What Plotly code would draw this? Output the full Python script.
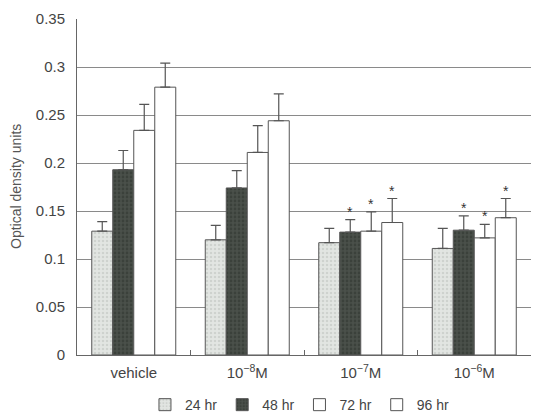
import plotly.graph_objects as go

categories = ["vehicle", "10<sup>−8</sup>M", "10<sup>−7</sup>M", "10<sup>−6</sup>M"]
series_names = ["24 hr", "48 hr", "72 hr", "96 hr"]

val_24 = [0.129, 0.120, 0.117, 0.111]
val_48 = [0.193, 0.174, 0.128, 0.130]
val_72 = [0.234, 0.211, 0.129, 0.122]
val_96 = [0.279, 0.244, 0.138, 0.143]

err_24 = [0.010, 0.015, 0.015, 0.021]
err_48 = [0.020, 0.018, 0.013, 0.015]
err_72 = [0.027, 0.028, 0.020, 0.014]
err_96 = [0.025, 0.028, 0.025, 0.020]

# significance markers (True = asterisk above bar)
sig_24 = [False, False, False, False]
sig_48 = [False, False, True, True]
sig_72 = [False, False, True, True]
sig_96 = [False, False, True, True]

values = [val_24, val_48, val_72, val_96]
errors = [err_24, err_48, err_72, err_96]
sigs = [sig_24, sig_48, sig_72, sig_96]

styles = [
    dict(color="#e2e5e2", pattern=dict(shape=".", fgcolor="#b9bdb9", bgcolor="#e2e5e2", size=4, solidity=0.3)),
    dict(color="#434843", pattern=dict(shape=".", fgcolor="#2c312c", bgcolor="#4a504a", size=4, solidity=0.4)),
    dict(color="#ffffff"),
    dict(color="#ffffff"),
]

fig = go.Figure()
for name, v, e, st in zip(series_names, values, errors, styles):
    fig.add_trace(go.Bar(
        name=name, x=categories, y=v,
        marker=dict(line=dict(color="#555555", width=1), **st),
        error_y=dict(type="data", symmetric=False, array=e, arrayminus=[0] * len(e),
                     color="#555555", thickness=1.2, width=5),
    ))

BAR_PX = 21
annotations = []
for i, (v, e, s) in enumerate(zip(values, errors, sigs)):
    for j, cat in enumerate(categories):
        if s[j]:
            annotations.append(dict(
                x=cat, y=v[j] + e[j], xref="x", yref="y", text="*", showarrow=False,
                xshift=(i - 1.5) * BAR_PX, yshift=8,
                font=dict(size=14, color="#333333"),
            ))

annotations.append(dict(
    x=-61 / 454, xanchor="center", xref="paper", y=0.5, yref="paper",
    text="Optical density units", textangle=-90, showarrow=False,
    font=dict(size=14, color="#555555"),
))

fig.update_layout(
    width=533, height=414,
    margin=dict(l=77, r=2, t=19, b=59, autoexpand=False),
    paper_bgcolor="white", plot_bgcolor="white",
    font=dict(family="Liberation Sans, Arial, sans-serif", size=15, color="#444444"),
    barmode="group", bargap=0.26, bargroupgap=0,
    showlegend=True,
    legend=dict(orientation="h", x=0.49, xanchor="center", y=-0.149, yanchor="middle",
                font=dict(size=14, color="#444444"), itemwidth=30,
                traceorder="normal"),
    annotations=annotations,
    yaxis=dict(
        range=[0, 0.35], tickvals=[0, 0.05, 0.1, 0.15, 0.2, 0.25, 0.3, 0.35],
        ticktext=["0", "0.05", "0.1", "0.15", "0.2", "0.25", "0.3", "0.35"],
        showgrid=True, gridcolor="#8a8a8a", gridwidth=1,
        showline=True, linecolor="#666666", linewidth=1,
        ticks="", zeroline=False, automargin=False, ticklabelstandoff=8,
        tickfont=dict(size=15, color="#444444"),
    ),
    xaxis=dict(
        showline=True, linecolor="#666666", linewidth=1,
        ticks="inside", tickson="boundaries", ticklen=5, tickcolor="#666666",
        tickfont=dict(size=15, color="#444444"), automargin=False, ticklabelstandoff=4,
    ),
)

fig.write_html("out.html", config={"displayModeBar": False},
               post_script="document.body.style.margin='0';")
